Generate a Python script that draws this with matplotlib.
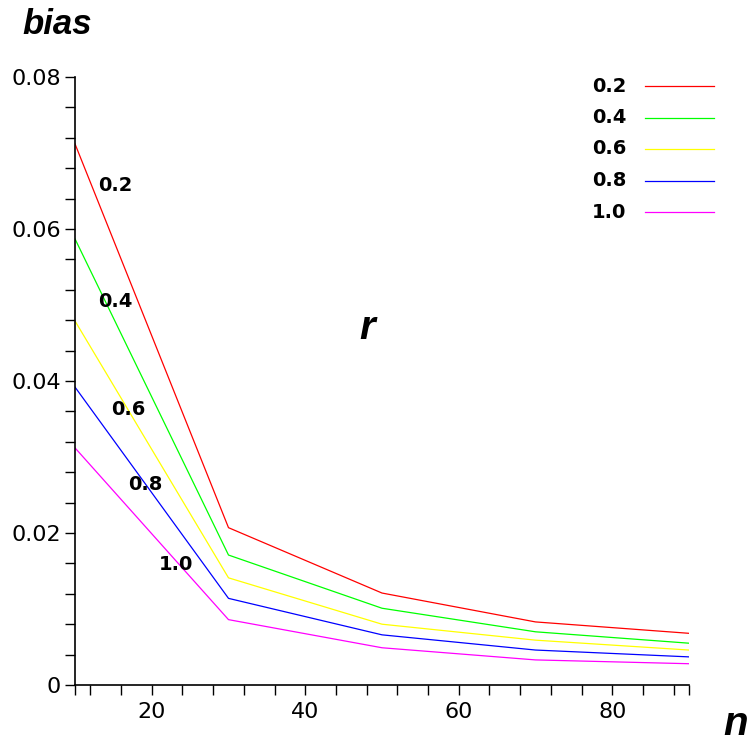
import numpy as np
import matplotlib
matplotlib.use("Agg")
import matplotlib.pyplot as plt

# sample sizes and bias for each r
n = [10, 30, 50, 70, 90]
r_labels = ["0.2", "0.4", "0.6", "0.8", "1.0"]
bias_02 = [0.0712, 0.0207, 0.0121, 0.0083, 0.0068]
bias_04 = [0.0587, 0.0171, 0.0101, 0.0070, 0.0055]
bias_06 = [0.0479, 0.0141, 0.0080, 0.0059, 0.0046]
bias_08 = [0.0392, 0.0114, 0.0066, 0.0046, 0.0037]
bias_10 = [0.0312, 0.0086, 0.0049, 0.0033, 0.0028]
series = [bias_02, bias_04, bias_06, bias_08, bias_10]
colors = ["#ff0000", "#00ff00", "#ffff00", "#0000ff", "#ff00ff"]

# inline curve labels (data coords)
label_x = [15.2, 15.2, 17.0, 19.1, 23.2]
label_y = [0.0657, 0.0504, 0.0363, 0.0264, 0.0158]

W, H = 755, 745
fig = plt.figure(figsize=(W / 100, H / 100), dpi=100)
ax = fig.add_axes([75 / W, 1 - 685 / H, (689 - 75) / W, (685 - 77) / H])

for ys, c in zip(series, colors):
    ax.plot(n, ys, color=c, lw=0.9)

ax.set_xlim(10, 90)
ax.set_ylim(0, 0.08)
ax.spines["top"].set_visible(False)
ax.spines["right"].set_visible(False)
for s in ["left", "bottom"]:
    ax.spines[s].set_linewidth(1.2)

ax.set_xticks([20, 40, 60, 80])
ax.set_xticks([10, 12, 16, 24, 28, 32, 36, 44, 48, 52, 56, 64, 68, 72, 76, 84, 88, 90], minor=True)
ax.set_yticks([0, 0.02, 0.04, 0.06, 0.08])
ax.set_yticklabels(["0", "0.02", "0.04", "0.06", "0.08"])
ax.set_yticks(np.arange(0, 0.0801, 0.004), minor=True)
ax.tick_params(which="both", direction="out", length=7, width=1.0, labelsize=16)
ax.tick_params(axis="x", which="both", pad=5)
ax.tick_params(axis="y", which="both", pad=3)

lab_font = dict(fontsize=14, fontweight="bold", family="DejaVu Sans")
for lab, x, y in zip(r_labels, label_x, label_y):
    ax.text(x, y, lab, ha="center", va="center", **lab_font)

# legend drawn by hand to match the layout
for i, (lab, c) in enumerate(zip(r_labels, colors)):
    yp = 1 - (86 + i * 31.5) / H
    fig.text(609 / W, yp, lab, ha="center", va="center", **lab_font)
    fig.add_artist(plt.Line2D([645 / W, 714 / W], [yp, yp], color=c, lw=0.9))

fig.text(57 / W, 1 - 24 / H, "bias", ha="center", va="center", fontsize=25,
         fontweight="bold", style="italic", family="Liberation Sans")
fig.text(367 / W, 1 - 328 / H, "r", ha="center", va="center", fontsize=29,
         fontweight="bold", style="italic", family="Liberation Sans")
fig.text(736 / W, 1 - 724 / H, "n", ha="center", va="center", fontsize=29,
         fontweight="bold", style="italic", family="Liberation Sans")

fig.savefig("out.png", dpi=100)
